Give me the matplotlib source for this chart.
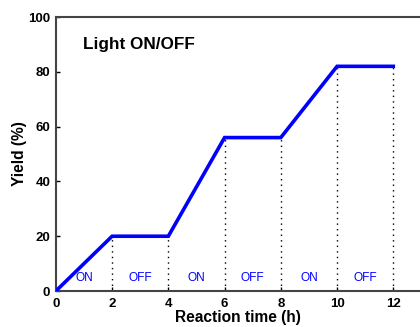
import matplotlib
matplotlib.use('Agg')
import matplotlib.pyplot as plt

plt.rcParams['font.family'] = ['Liberation Sans', 'DejaVu Sans']

# reaction time (h) and yield (%)
time_h = [0, 2, 4, 6, 8, 10, 12]
yield_pct = [0, 20, 20, 56, 56, 82, 82]
periods = ['ON', 'OFF', 'ON', 'OFF', 'ON', 'OFF']
period_mid = [1, 3, 5, 7, 9, 11]

fig = plt.figure(figsize=(4.2, 3.27), dpi=100)
ax = fig.add_axes([0.133, 0.110, 0.867, 0.838])

ax.plot(time_h, yield_pct, color='#0000ff', lw=2.6, solid_joinstyle='miter', zorder=3)

# dotted guides from the x axis up to the curve
for t, y in zip(time_h[1:], yield_pct[1:]):
    ax.plot([t, t], [0, y], color='black', lw=1.0, ls=(0, (1, 3)), zorder=2)

for x, lab in zip(period_mid, periods):
    ax.text(x, 4.8, lab, color='#0000ff', fontsize=8.6, ha='center', va='center')

ax.text(0.95, 90, 'Light ON/OFF', fontsize=12.3, fontweight='bold', va='center')

ax.set_xlim(0, 12.95)
ax.set_ylim(0, 100)
ax.set_xticks([0, 2, 4, 6, 8, 10, 12])
ax.set_yticks([0, 20, 40, 60, 80, 100])
ax.tick_params(direction='in', length=3, width=1, labelsize=9.5)
ax.tick_params(axis='x', pad=5)
ax.tick_params(axis='y', pad=4)
for lab in ax.get_xticklabels() + ax.get_yticklabels():
    lab.set_fontweight('bold')

ax.spines['right'].set_visible(False)
for s in ['left', 'bottom', 'top']:
    ax.spines[s].set_linewidth(1.5)
    ax.spines[s].set_color('#444444')

ax.set_xlabel('Reaction time (h)', fontsize=11.2, fontweight='bold', labelpad=0)
ax.set_ylabel('Yield (%)', fontsize=11.2, fontweight='bold', labelpad=1)

fig.savefig('out.png', dpi=100)
